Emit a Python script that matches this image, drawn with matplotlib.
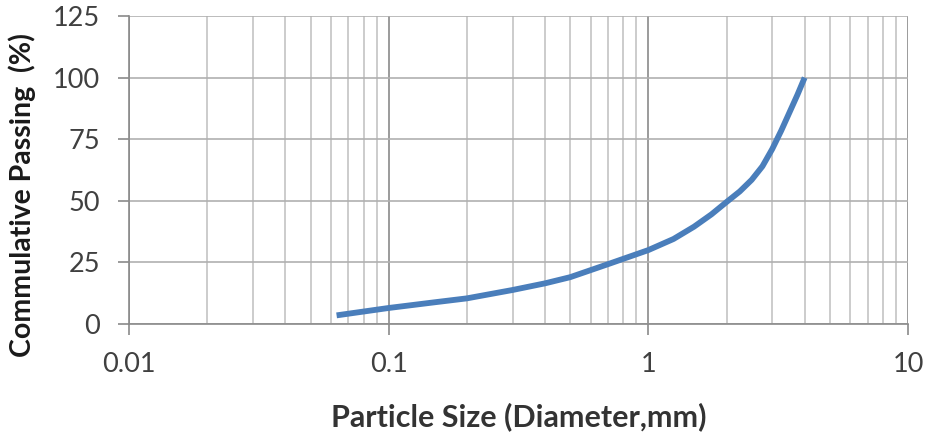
import numpy as np
import matplotlib
matplotlib.use('Agg')
import matplotlib.pyplot as plt
from matplotlib.ticker import LogLocator, FixedLocator, NullFormatter

# particle size distribution
size_mm = [0.063, 0.1, 0.15, 0.2, 0.3, 0.4, 0.5, 0.7, 1.0, 1.25, 1.5, 1.75,
           2.0, 2.25, 2.5, 2.75, 3.0, 3.25, 3.5, 3.75, 4.0]
passing = [3.5, 6.5, 8.8, 10.4, 13.8, 16.5, 19.0, 24.3, 30.0, 34.5, 39.5, 44.5,
           49.5, 53.8, 58.5, 64.0, 71.0, 78.5, 86.0, 93.0, 100.0]

x_ticks = [0.01, 0.1, 1, 10]
x_tick_labels = ['0.01', '0.1', '1', '10']
y_ticks = [0, 25, 50, 75, 100, 125]

plt.rcParams['font.family'] = ['Lato', 'DejaVu Sans']

fig = plt.figure(figsize=(9.29, 4.36), dpi=100, facecolor='w')
ax = fig.add_axes([0.1389, 0.2569, 0.9774 - 0.1389, 0.9633 - 0.2569])

ax.set_xscale('log')
ax.set_xlim(0.01, 10)
ax.set_ylim(0, 125)

ax.xaxis.set_major_locator(FixedLocator(x_ticks))
ax.set_xticklabels(x_tick_labels)
ax.xaxis.set_minor_locator(LogLocator(base=10, subs=np.arange(2, 10)))
ax.xaxis.set_minor_formatter(NullFormatter())
ax.set_yticks(y_ticks)

ax.grid(True, which='minor', axis='x', color='#c4c4c4', linewidth=1.2)
ax.grid(True, which='major', axis='x', color='#8a8a8a', linewidth=1.2)
ax.grid(True, which='major', axis='y', color='#b0b0b0', linewidth=1.2)
ax.set_axisbelow(True)

for side in ['top', 'right']:
    ax.spines[side].set_visible(False)
ax.spines['left'].set_color('#8a8a8a')
ax.spines['bottom'].set_color('#8a8a8a')
ax.spines['left'].set_linewidth(1.2)
ax.spines['bottom'].set_linewidth(1.2)

ax.tick_params(axis='both', which='major', direction='out', length=8, width=1.2,
               color='#8a8a8a', labelsize=19.5, labelcolor='#404040')
ax.tick_params(axis='y', which='major', pad=13)
ax.tick_params(axis='x', which='minor', length=0)
ax.tick_params(axis='x', which='major', pad=12)

ax.plot(size_mm, passing, '-', color='#4a7ebb', linewidth=4.2,
        solid_capstyle='butt', solid_joinstyle='round')

ax.set_xlabel('Particle Size (Diameter,mm)', fontsize=22, fontweight='bold',
              color='#333333', labelpad=18)
ax.set_ylabel('Commulative Passing  (%)', fontsize=20.5, fontweight='bold',
              color='#1a1a1a')
ax.yaxis.set_label_coords(-0.12, 0.42)

plt.savefig('out.png', dpi=100)
